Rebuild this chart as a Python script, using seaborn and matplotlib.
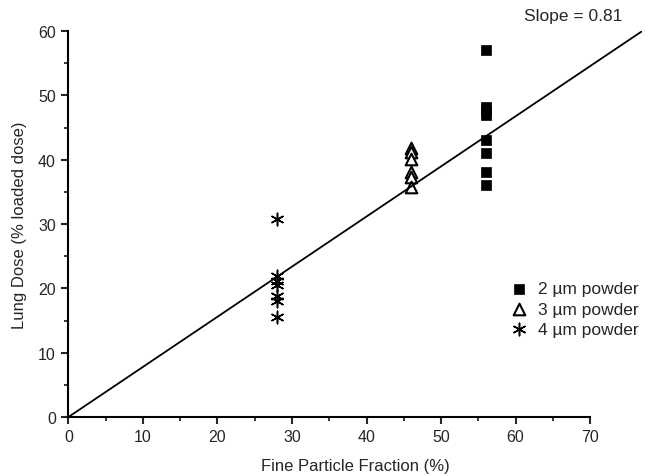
import matplotlib

matplotlib.use("Agg")
import matplotlib.pyplot as plt
import numpy as np
import pandas as pd
import seaborn as sns

# values
POWDERS = ["2 \u00b5m powder", "3 \u00b5m powder", "4 \u00b5m powder"]
FPF = [56, 46, 28]
DOSE_2UM = [57.0, 48.2, 47.6, 47.0, 43.1, 41.0, 38.1, 36.1]
DOSE_3UM = [41.8, 41.2, 40.1, 38.1, 37.3, 35.8]
DOSE_4UM = [30.8, 22.0, 21.2, 20.6, 18.8, 18.0, 15.6]
SLOPE_LABEL = "Slope = 0.81"
FIT_X = [0, 77]
FIT_Y = [0, 60]

rows = []
for name, x, doses in zip(POWDERS, FPF, [DOSE_2UM, DOSE_3UM, DOSE_4UM]):
    for d in doses:
        rows.append({"powder": name, "fpf": x, "dose": d})
df = pd.DataFrame(rows)

sns.set_style("ticks")
plt.rcParams["font.family"] = ["Liberation Sans", "DejaVu Sans"]

fig = plt.figure(figsize=(6.49, 4.77), dpi=100)
ax = fig.add_axes([0.1055, 0.1237, 0.884, 0.809])

sns.lineplot(x=FIT_X, y=FIT_Y, color="black", linewidth=1.3, ax=ax, legend=False)

styles = {
    POWDERS[0]: dict(marker="s", s=48, color="black", edgecolor="black", linewidth=0.5),
    POWDERS[1]: dict(marker="^", s=70, facecolor="white", edgecolor="black", linewidth=1.5),
    POWDERS[2]: dict(marker=(6, 2, 0), s=80, color="black", linewidth=1.1),
}
for name in POWDERS:
    sub = df[df["powder"] == name]
    sns.scatterplot(data=sub, x="fpf", y="dose", label=name, ax=ax, **styles[name])

ax.set_xlim(0, 77)
ax.set_ylim(0, 60)
ax.spines["top"].set_visible(False)
ax.spines["right"].set_visible(False)
ax.spines["bottom"].set_bounds(0, 70)
ax.spines["left"].set_bounds(0, 60)
for sp in ("bottom", "left"):
    ax.spines[sp].set_linewidth(1.5)
    ax.spines[sp].set_color("black")

ax.set_xticks(np.arange(0, 71, 10))
ax.set_xticks(np.arange(5, 70, 10), minor=True)
ax.set_yticks(np.arange(0, 61, 10))
ax.set_yticks(np.arange(5, 60, 10), minor=True)
ax.tick_params(which="major", direction="out", length=5, width=1.5, labelsize=11.5, pad=4)
ax.tick_params(which="minor", direction="out", length=3, width=1.3)

ax.set_xlabel("Fine Particle Fraction (%)", fontsize=12, labelpad=10)
ax.set_ylabel("Lung Dose (% loaded dose)", fontsize=12, labelpad=8)

ax.text(0.965, 1.02, SLOPE_LABEL, transform=ax.transAxes, ha="right", va="bottom",
        fontsize=12.5, clip_on=False)

leg = ax.legend(loc="center left", bbox_to_anchor=(0.74, 0.28), frameon=False,
                fontsize=12.5, handletextpad=0.5, labelspacing=0.3, handlelength=1.2)

fig.savefig("out.png", dpi=100)
